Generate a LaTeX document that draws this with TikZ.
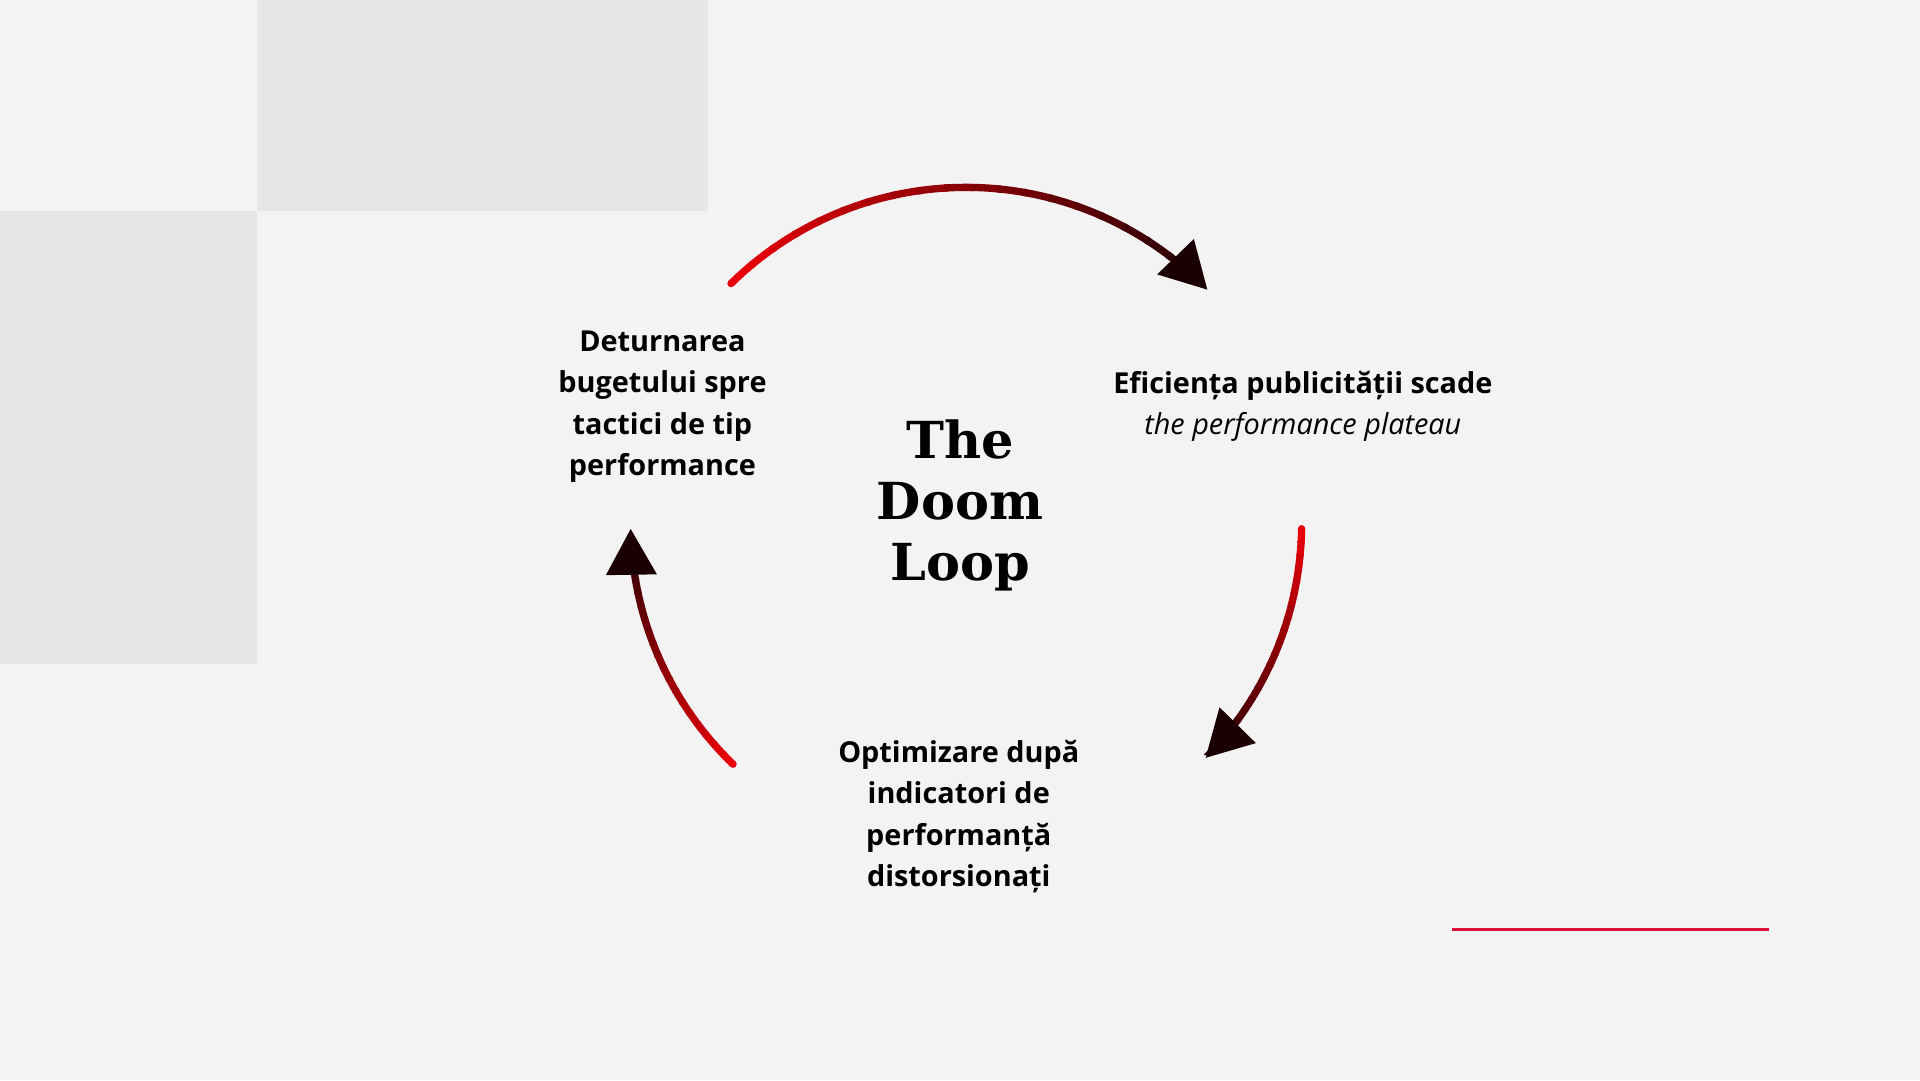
\documentclass[tikz,border=0pt]{standalone}
\usepackage{fontspec}
\setmainfont{Open Sans}
\newfontfamily\titlefont{DejaVu Serif}
\usetikzlibrary{arrows.meta,positioning,calc}
\definecolor{bgcol}{HTML}{F3F3F3}
\definecolor{panel}{HTML}{E6E6E8}
\definecolor{loopred}{HTML}{E8000A}
\definecolor{loopdark}{HTML}{1A0003}
\definecolor{rule}{HTML}{E0103A}
\tikzset{%
	stage/.style = {align=center, font=\fontsize{8.2}{11.8}\selectfont\bfseries},
	title/.style = {align=center, font=\titlefont\fontsize{14.5}{17.4}\selectfont\bfseries},
	seg/.style   = {line width=0.73mm},
	tip/.style   = {-{Triangle[length=4.6mm,width=4.9mm]}},
}
% gradient arc: #1 start angle, #2 end angle
\newcommand{\gradarc}[2]{%
	\foreach \k in {0,...,19}{%
		\pgfmathsetmacro{\a}{#1+(#2-#1)*\k/20}
		\pgfmathsetmacro{\b}{#1+(#2-#1)*(\k+1.15)/20}
		\pgfmathtruncatemacro{\m}{100-5*\k}
		\ifnum\k=19
			\draw[seg,tip,loopdark] ($(ctr)+(\a:274)$) arc[start angle=\a,end angle=#2,radius=274];
		\else
			\draw[seg,line cap=butt,loopred!\m!loopdark] ($(ctr)+(\a:274)$) arc[start angle=\a,end angle=\b,radius=274];
		\fi
	}%
	\fill[loopred] ($(ctr)+(#1:274)$) circle[radius=3];
}
\begin{document}
\begin{tikzpicture}[x=0.012245cm,y=-0.012245cm]
	\fill[bgcol] (0,0) rectangle (1568,882);
	\useasboundingbox (0,0) rectangle (1568,882);
	\fill[panel] (210,0) rectangle (578,172);
	\fill[panel] (0,172) rectangle (210,542);
	\coordinate (ctr) at (789,427);

	\node[title] (doom) at (784,413) {The\\Doom\\Loop};
	\node[stage] (budget) at (541,332) {Deturnarea\\bugetului spre\\tactici de tip\\performance};
	\node[stage] (plateau) at (1064,315) {Eficiența publicității scade};
	\node[stage, font=\fontsize{8.2}{11.8}\selectfont\itshape] (plateausub) at (1064,349) {the performance plateau};
	\node[stage] (kpi) at (783,667) {Optimizare după\\indicatori de\\performanță\\distorsionați};

	\gradarc{-134.5}{-44}
	\gradarc{1}{44.5}
	\gradarc{134}{179}

	\coordinate (ruleA) at (1186,759);
	\coordinate (ruleB) at (1445,759);
	\draw[rule, line width=0.3mm] (ruleA) -- (ruleB);
\end{tikzpicture}
\end{document}
